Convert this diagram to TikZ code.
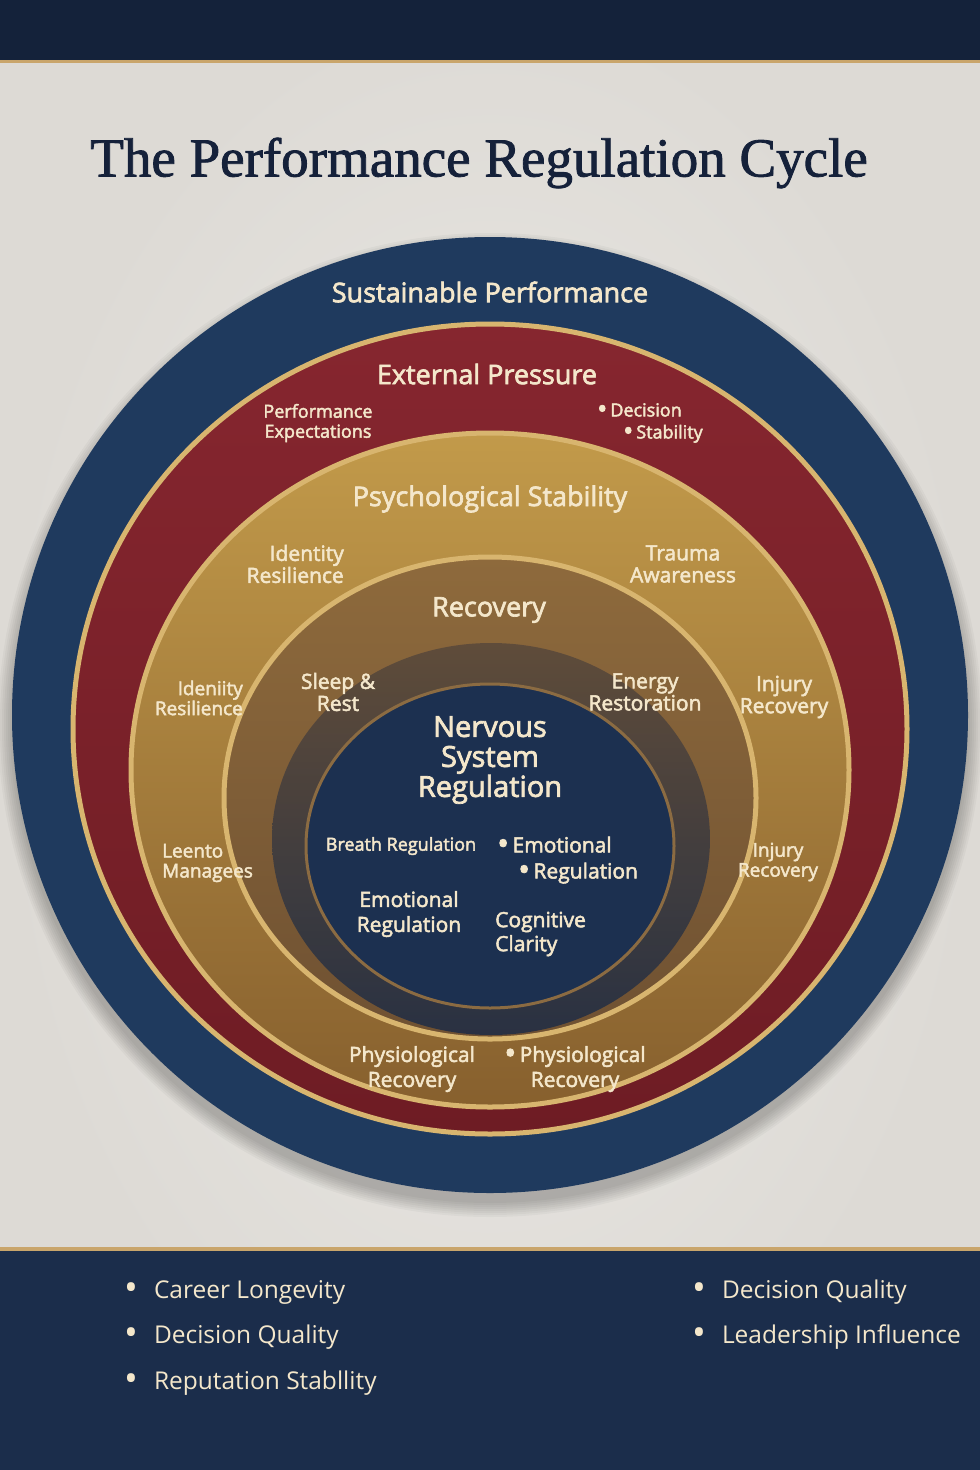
\documentclass[tikz,border=0pt]{standalone}
\usepackage{fontspec}
\setmainfont{Open Sans}
\newfontfamily\labelfont{Open Sans}[FakeBold=2.5]
\newfontfamily\titlefont{Liberation Serif}[FakeBold=1.5]
\usetikzlibrary{calc}

\definecolor{paper}{HTML}{ECEAE6}
\definecolor{paperedge}{HTML}{DDDAD5}
\definecolor{bandnavy}{HTML}{14223A}
\definecolor{footnavy}{HTML}{1B2D4B}
\definecolor{goldline}{HTML}{C9A56B}
\definecolor{ringnavy}{HTML}{1F3A5E}
\definecolor{redtop}{HTML}{86262F}
\definecolor{redbot}{HTML}{6E1C24}
\definecolor{psychtop}{HTML}{C29A4A}
\definecolor{psychbot}{HTML}{87602E}
\definecolor{rectop}{HTML}{8E6A3C}
\definecolor{recbot}{HTML}{6F5132}
\definecolor{shadetop}{HTML}{58483A}
\definecolor{shadebot}{HTML}{1E2C45}
\definecolor{innernavy}{HTML}{1C3050}
\definecolor{rimgold}{HTML}{D8B56F}
\definecolor{innerrim}{HTML}{8B6B42}
\definecolor{cream}{HTML}{F4E7CB}
\definecolor{titlenavy}{HTML}{15213A}

% larger bullet for lists
\newcommand{\blt}{\raisebox{-0.1em}{\scalebox{1.5}{\textbullet}}}

\begin{document}
\begin{tikzpicture}[x=1pt, y=-1pt,
    ringtitle/.style={font=\labelfont\fontsize{27}{30}\selectfont, text=cream, inner sep=0pt},
    ringlabel/.style={font=\labelfont\fontsize{21}{22}\selectfont, text=cream, inner sep=0pt, align=center},
    smalllabel/.style={font=\labelfont\fontsize{18}{20}\selectfont, text=cream, inner sep=0pt, align=center},
    footitem/.style={font=\fontsize{24.5}{26}\selectfont, text=cream, inner sep=0pt, anchor=west},
    rim/.style={draw=rimgold, line width=5pt}]

    \useasboundingbox (0,0) rectangle (980,1470);

    % ==========================================
    % 1. PAPER & BANDS
    % ==========================================
    \shade[inner color=paper, outer color=paperedge] (0,0) rectangle (980,1470);

    % top band with gold edge
    \fill[bandnavy] (0,0) rectangle (980,61);
    \fill[goldline] (0,60) rectangle (980,63);

    % footer band with gold edge
    \fill[footnavy] (0,1250) rectangle (980,1470);
    \fill[goldline] (0,1247) rectangle (980,1251);

    % Title
    \node[font=\titlefont\fontsize{55}{60}\selectfont, text=titlenavy] (title) at (479,163) {The Performance Regulation Cycle};

    % ==========================================
    % 2. RINGS (outer to inner, each one sits a bit lower)
    % ==========================================
    \coordinate (c0) at (490,715);
    \coordinate (c1) at (490,729);
    \coordinate (c2) at (490,770);
    \coordinate (c3) at (490,798);
    \coordinate (c4) at (491,839);
    \coordinate (c5) at (490,846);

    % soft shadow on the paper
    \foreach \s in {1,...,8} {
        \fill[black, opacity=0.03] ($(c0)+(0,10)$) ellipse [x radius=476pt+2pt*\s, y radius=476pt+2pt*\s];
    }

    % Sustainable Performance
    \fill[ringnavy] (c0) circle [radius=478pt];

    % External Pressure
    \shade[top color=redtop, bottom color=redbot] (c1) ellipse [x radius=417pt, y radius=405pt];
    \draw[rim] (c1) ellipse [x radius=417pt, y radius=405pt];

    % Psychological Stability
    \shade[top color=psychtop, bottom color=psychbot] (c2) ellipse [x radius=359pt, y radius=337pt];
    \draw[rim] (c2) ellipse [x radius=359pt, y radius=337pt];

    % Recovery
    \shade[top color=rectop, bottom color=recbot] (c3) ellipse [x radius=266pt, y radius=241pt];
    \draw[rim] (c3) ellipse [x radius=266pt, y radius=241pt];

    % darker band round the core
    \shade[top color=shadetop, bottom color=shadebot, opacity=0.85] (c4) ellipse [x radius=219pt, y radius=196pt];

    % Nervous System Regulation (core)
    \fill[innernavy] (c5) ellipse [x radius=184pt, y radius=162pt];
    \draw[innerrim, line width=3pt] (c5) ellipse [x radius=184pt, y radius=162pt];

    % ==========================================
    % 3. RING LABELS
    % ==========================================
    \node[ringtitle] (sustain) at (490,292) {Sustainable Performance};

    \node[ringtitle] (extpress) at (487,374) {External Pressure};
    \node[smalllabel] (perfexp) at (318,423) {Performance\\Expectations};
    \node[smalllabel, font=\labelfont\fontsize{18}{22}\selectfont, align=left, anchor=west] (decstab) at (597,423)
        {\blt\,Decision\\\hspace*{26pt}\blt\,Stability};

    \node[ringtitle] (psych) at (490,499) {Psychological Stability};
    \node[ringlabel, align=right, anchor=east] (identres) at (344,564) {Identity\\Resilience};
    \node[ringlabel] (trauma) at (683,564) {Trauma\\Awareness};
    \node[ringlabel, font=\labelfont\fontsize{19}{20}\selectfont, align=right, anchor=east] (idenres) at (243,698) {Ideniity\\Resilience};
    \node[ringlabel] (injury1) at (784,697) {Injury\\Recovery};
    \node[ringlabel, font=\labelfont\fontsize{19}{20}\selectfont, align=left, anchor=west] (leento) at (162,863) {Leento\\Managees};
    \node[ringlabel, font=\labelfont\fontsize{19}{20}\selectfont] (injury2) at (778,862) {Injury\\Recovery};

    \node[ringtitle] (recovery) at (489,610) {Recovery};
    \node[ringlabel] (sleep) at (338,692) {Sleep \&\\Rest};
    \node[ringlabel] (energy) at (645,692) {Energy\\Restoration};
    \node[ringlabel, font=\labelfont\fontsize{21}{25}\selectfont] (physio1) at (412,1069) {Physiological\\Recovery};
    \node[ringlabel, font=\labelfont\fontsize{21}{25}\selectfont] (physio2) at (575,1069) {\blt\,Physiological\\Recovery};

    % core
    \node[ringtitle, font=\labelfont\fontsize{29}{30}\selectfont, align=center] (nervous) at (490,760) {Nervous\\System\\Regulation};
    \node[smalllabel] (breath) at (401,846) {Breath Regulation};
    \node[ringlabel, font=\labelfont\fontsize{21}{26}\selectfont, align=left, anchor=west] (emoreg1) at (497,860)
        {\blt\,Emotional\\\hspace*{21pt}\blt\,Regulation};
    \node[ringlabel, font=\labelfont\fontsize{21}{25}\selectfont] (emoreg2) at (409,914) {Emotional\\Regulation};
    \node[ringlabel, font=\labelfont\fontsize{21}{24}\selectfont, align=left, anchor=west] (cognitive) at (495,934) {Cognitive\\Clarity};

    % ==========================================
    % 4. FOOTER LIST
    % ==========================================
    \node[footitem] (career) at (124,1292) {\blt\hspace{16pt}Career Longevity};
    \node[footitem] (decqual1) at (124,1337) {\blt\hspace{16pt}Decision Quality};
    \node[footitem] (reput) at (124,1383) {\blt\hspace{16pt}Reputation Stabllity};
    \node[footitem] (decqual2) at (692,1292) {\blt\hspace{16pt}Decision Quality};
    \node[footitem] (leader) at (692,1337) {\blt\hspace{16pt}Leadership Influence};

\end{tikzpicture}
\end{document}
